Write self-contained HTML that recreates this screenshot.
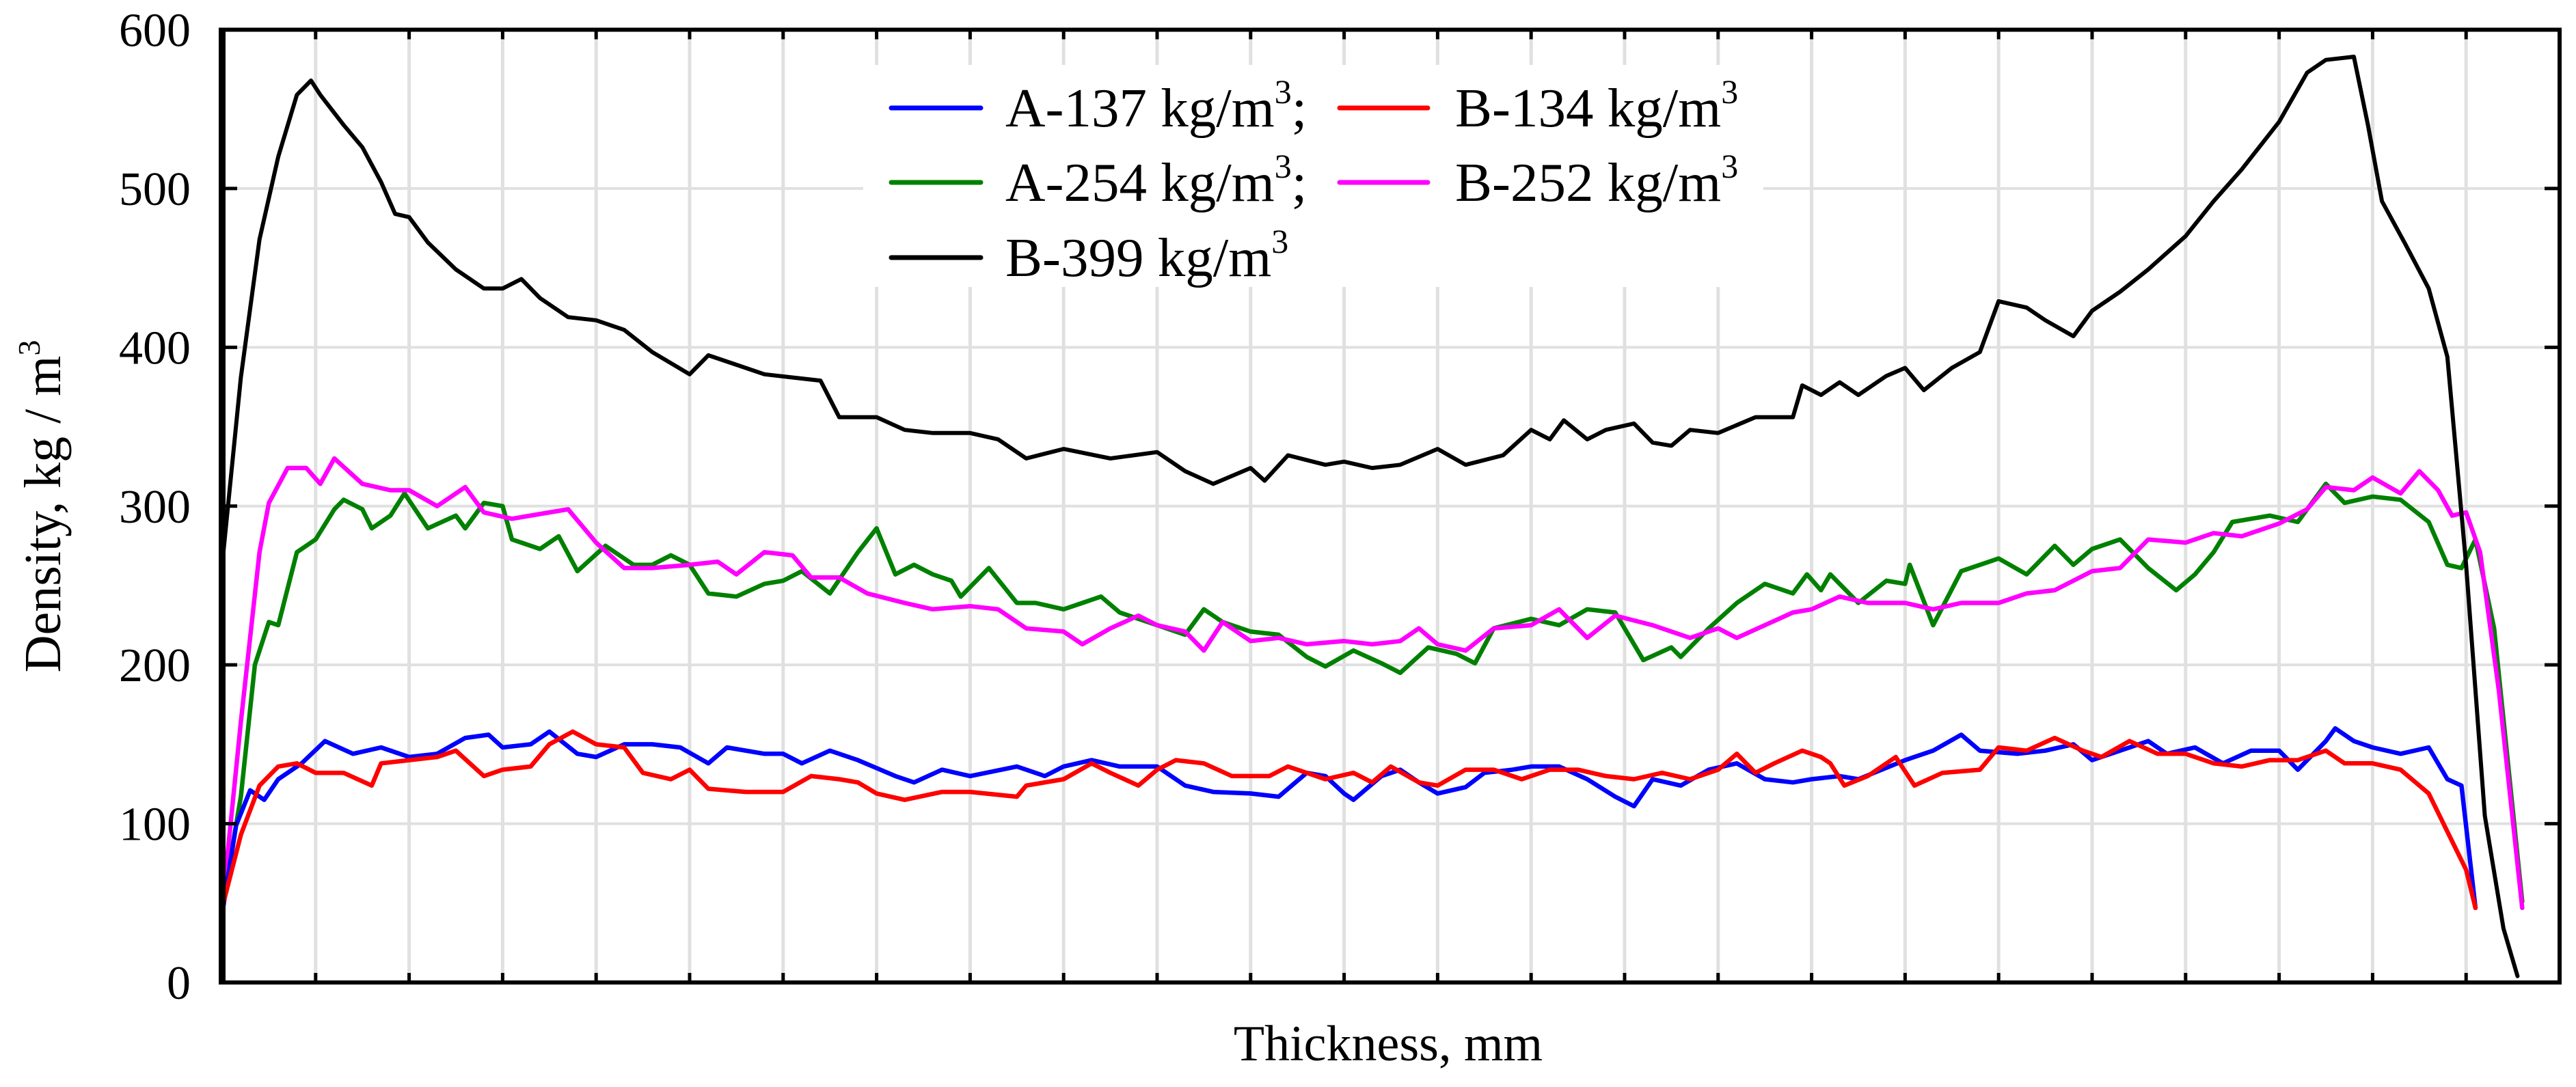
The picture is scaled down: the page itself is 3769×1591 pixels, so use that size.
<!DOCTYPE html>
<html><head><meta charset="utf-8"><style>
html,body{margin:0;padding:0;background:#fff;}
svg{display:block;font-family:"Liberation Serif",serif;}
</style></head><body>
<svg id="chart" width="3769" height="1591" viewBox="0 0 3769 1591" xmlns="http://www.w3.org/2000/svg">
<g id="grid"></g>
<g id="series"></g>
<g id="legend">
 <rect x="1263" y="95" width="1317" height="325" fill="#fff"/>
 <g>
  <line x1="1304" y1="158" x2="1435" y2="158" stroke="#0000ff" stroke-width="7" stroke-linecap="round"/>
  <text x="1471" y="185" font-size="81">A-137 kg/m<tspan font-size="50" dy="-34">3</tspan><tspan dy="34">;</tspan></text>
 </g>
 <g>
  <line x1="1960" y1="158" x2="2089" y2="158" stroke="#ff0000" stroke-width="7" stroke-linecap="round"/>
  <text x="2129" y="185" font-size="81">B-134 kg/m<tspan font-size="50" dy="-34">3</tspan></text>
 </g>
 <g>
  <line x1="1304" y1="267" x2="1435" y2="267" stroke="#008000" stroke-width="7" stroke-linecap="round"/>
  <text x="1471" y="294" font-size="81">A-254 kg/m<tspan font-size="50" dy="-34">3</tspan><tspan dy="34">;</tspan></text>
 </g>
 <g>
  <line x1="1960" y1="267" x2="2089" y2="267" stroke="#ff00ff" stroke-width="7" stroke-linecap="round"/>
  <text x="2129" y="294" font-size="81">B-252 kg/m<tspan font-size="50" dy="-34">3</tspan></text>
 </g>
 <g>
  <line x1="1304" y1="377" x2="1435" y2="377" stroke="#000000" stroke-width="7" stroke-linecap="round"/>
  <text x="1471" y="404" font-size="81">B-399 kg/m<tspan font-size="50" dy="-34">3</tspan></text>
 </g>
</g>
<g id="axes"></g>
<text x="2031" y="1552" font-size="74" text-anchor="middle">Thickness, mm</text>
<text transform="translate(88,741) rotate(-90)" font-size="76" text-anchor="middle">Density, kg / m<tspan font-size="46" dy="-30">3</tspan></text>
</svg>
<script>
const yTicks = [0,100,200,300,400,500,600];
const xGrid = [0,1,2,3,4,5,6,7,8,9,10,11,12,13,14,15,16,17,18,19,20,21,22,23,24,25];

const blackX = [0,0.2,0.4,0.6,0.8,0.95,1.05,1.3,1.5,1.7,1.85,2.0,2.2,2.5,2.8,3.0,3.2,3.4,3.7,4.0,4.3,4.6,5.0,5.2,5.5,5.8,6.1,6.4,6.6,7.0,7.3,7.6,8.0,8.3,8.6,9,9.5,10,10.3,10.6,11,11.15,11.4,11.8,12,12.3,12.6,13,13.3,13.7,14,14.2,14.35,14.6,14.8,15.1,15.3,15.5,15.7,16,16.4,16.8,16.9,17.1,17.3,17.5,17.8,18,18.2,18.5,18.8,19,19.3,19.5,19.8,20,20.3,20.6,21,21.3,21.6,22,22.3,22.5,22.8,22.95,23.1,23.35,23.6,23.8,24,24.2,24.4,24.55];
const blackY = [263,381,468,520,559,568,559,540,526,504,484,482,466,449,437,437,443,431,419,417,411,397,383,395,389,383,381,379,356,356,348,346,346,342,330,336,330,334,322,314,324,316,332,326,328,324,326,336,326,332,348,342,354,342,348,352,340,338,348,346,356,356,376,370,378,370,382,387,373,387,397,429,425,417,407,423,435,449,470,492,512,542,573,581,583,540,492,465,437,394,263,105,34,4];

const magX = [0,0.2,0.4,0.5,0.7,0.9,1.05,1.2,1.5,1.8,2.0,2.3,2.6,2.8,3.1,3.5,3.7,4.0,4.3,4.6,5.0,5.3,5.5,5.8,6.1,6.3,6.6,6.9,7.3,7.6,8.0,8.3,8.6,9,9.2,9.5,9.8,10,10.3,10.5,10.7,11,11.3,11.6,12,12.3,12.6,12.8,13,13.3,13.6,14,14.3,14.6,14.9,15.3,15.7,16,16.2,16.5,16.8,17,17.3,17.6,18,18.3,18.6,19,19.3,19.6,20,20.3,20.6,21,21.3,21.6,22,22.3,22.5,22.8,23,23.3,23.5,23.7,23.85,24,24.15,24.35,24.6];
const magY = [47,164,271,302,324,324,314,330,314,310,310,300,312,296,292,296,298,277,261,261,263,265,257,271,269,255,255,245,239,235,237,235,223,221,213,223,231,225,221,209,227,215,217,213,215,213,215,223,213,209,223,225,235,217,231,225,217,223,217,225,233,235,243,239,239,235,239,239,245,247,259,261,279,277,283,281,289,298,312,310,318,308,322,310,294,296,271,184,47];

const greenX = [0,0.2,0.35,0.5,0.6,0.8,1.0,1.2,1.3,1.5,1.6,1.8,1.95,2.2,2.5,2.6,2.8,3.0,3.1,3.4,3.6,3.8,4.1,4.4,4.6,4.8,5.0,5.2,5.5,5.8,6.0,6.2,6.5,6.8,7.0,7.2,7.4,7.6,7.8,7.9,8.2,8.5,8.7,9,9.2,9.4,9.6,10,10.3,10.5,10.7,11,11.3,11.6,11.8,12.1,12.4,12.6,12.9,13.2,13.4,13.6,14,14.3,14.6,14.9,15.2,15.5,15.6,15.9,16.2,16.5,16.8,16.95,17.1,17.2,17.5,17.8,18,18.05,18.3,18.6,19,19.3,19.6,19.8,20,20.3,20.6,20.9,21.1,21.3,21.5,21.9,22.2,22.5,22.7,23,23.3,23.6,23.8,23.95,24.1,24.3,24.6];
const greenY = [47,117,200,227,225,271,279,298,304,298,286,294,308,286,294,286,302,300,279,273,281,259,275,263,263,269,263,245,243,251,253,259,245,271,286,257,263,257,253,243,261,239,239,235,239,243,233,225,219,235,227,221,219,205,199,209,201,195,211,207,201,223,229,225,235,233,203,211,205,223,239,251,245,257,247,257,239,253,251,263,225,259,267,257,275,263,273,279,261,247,257,271,290,294,290,314,302,306,304,290,263,261,279,223,51];

const blueX = [0,0.15,0.3,0.45,0.6,0.85,1.1,1.4,1.7,2.0,2.3,2.6,2.85,3.0,3.3,3.5,3.8,4.0,4.3,4.6,4.9,5.2,5.4,5.8,6.0,6.2,6.5,6.8,7.2,7.4,7.7,8.0,8.5,8.8,9,9.3,9.6,10,10.3,10.6,11,11.3,11.6,11.8,12.0,12.1,12.4,12.6,12.8,13,13.3,13.5,13.8,14.0,14.3,14.6,14.9,15.1,15.3,15.6,15.9,16.2,16.5,16.8,17,17.3,17.5,18,18.3,18.6,18.8,19.2,19.5,19.8,20,20.3,20.6,20.8,21.1,21.4,21.7,22,22.2,22.5,22.6,22.8,23.0,23.3,23.6,23.8,23.95,24.1];
const blueY = [43,99,121,115,128,138,152,144,148,142,144,154,156,148,150,158,144,142,150,150,148,138,148,144,144,138,146,140,130,126,134,130,136,130,136,140,136,136,124,120,119,117,132,130,119,115,130,134,126,119,123,132,134,136,136,128,117,111,128,124,134,138,128,126,128,130,128,140,146,156,146,144,146,150,140,146,152,144,148,138,146,146,134,152,160,152,148,144,148,128,124,47];

const redX = [0,0.2,0.4,0.6,0.8,1.0,1.3,1.6,1.7,2.0,2.3,2.5,2.8,3.0,3.3,3.5,3.75,4.0,4.3,4.5,4.8,5.0,5.2,5.6,6.0,6.3,6.6,6.8,7.0,7.3,7.7,8.0,8.5,8.6,9,9.3,9.5,9.8,10,10.2,10.5,10.8,11.2,11.4,11.8,12.1,12.3,12.5,12.8,13.0,13.3,13.6,13.9,14.2,14.5,14.8,15.1,15.4,15.7,16.0,16.2,16.4,16.6,16.9,17.1,17.2,17.35,17.6,17.9,18.1,18.4,18.8,19.0,19.3,19.6,19.9,20.1,20.4,20.7,21.0,21.3,21.6,21.9,22.2,22.5,22.7,23.0,23.3,23.6,23.8,24.0,24.1];
const redY = [47,93,124,136,138,132,132,124,138,140,142,146,130,134,136,150,158,150,148,132,128,134,122,120,120,130,128,126,119,115,120,120,117,124,128,138,132,124,134,140,138,130,130,136,128,132,126,136,126,124,134,134,128,134,134,130,128,132,128,134,144,132,138,146,142,138,124,130,142,124,132,134,148,146,154,146,142,152,144,144,138,136,140,140,146,138,138,134,119,95,71,47];

const NS = 'http://www.w3.org/2000/svg';
const X0 = 325, X1 = 3745, Y0 = 1438, Y1 = 43.5;
const xMax = 25, yMax = 600;
function sx(u){ return X0 + (X1 - X0) * u / xMax; }
function sy(v){ return Y0 - (Y0 - Y1) * v / yMax; }
function mk(tag, attrs, parent){
  const e = document.createElementNS(NS, tag);
  for (const k in attrs) e.setAttribute(k, attrs[k]);
  parent.appendChild(e);
  return e;
}
const grid = document.getElementById('grid');
const axes = document.getElementById('axes');
const series = document.getElementById('series');

xGrid.forEach(function(g){
  if (g === 0 || g === xMax) return;
  const l = mk('line', {x1: sx(g), x2: sx(g), y1: Y1, y2: Y0, stroke: '#e0e0e0', 'stroke-width': 5}, grid);
  
  
  const t1 = mk('line', {x1: sx(g), x2: sx(g), y1: Y1, y2: Y1 + 14, stroke: '#000', 'stroke-width': 5}, axes);
  
  
  const t2 = mk('line', {x1: sx(g), x2: sx(g), y1: Y0, y2: Y0 - 14, stroke: '#000', 'stroke-width': 5}, axes);
  
  
});
yTicks.forEach(function(v){
  if (v !== 0 && v !== yMax) {
    const l = mk('line', {x1: X0, x2: X1, y1: sy(v), y2: sy(v), stroke: '#e0e0e0', 'stroke-width': 4}, grid);
    
    
    const t1 = mk('line', {x1: X0, x2: X0 + 22, y1: sy(v), y2: sy(v), stroke: '#000', 'stroke-width': 5}, axes);
    
    
    const t2 = mk('line', {x1: X1, x2: X1 - 22, y1: sy(v), y2: sy(v), stroke: '#000', 'stroke-width': 5}, axes);
    
    
  }
  const tx = mk('text', {x: 279, y: sy(v) + 24, 'font-size': 70, 'text-anchor': 'end'}, axes);
  tx.textContent = v;
  
  
});

const frame = mk('rect', {x: X0, y: Y1, width: X1 - X0, height: Y0 - Y1, fill: 'none', stroke: '#000', 'stroke-width': 6}, axes);


const leftAxis = mk('line', {x1: X0, x2: X0, y1: Y1 - 3, y2: Y0 + 3, stroke: '#000', 'stroke-width': 10}, axes);



function drawSeries(xs, ys, color, name, w){
  let d = '';
  for (let i = 0; i < xs.length; i++) d += (i ? 'L' : 'M') + sx(xs[i]).toFixed(1) + ' ' + sy(ys[i]).toFixed(1);
  const p = mk('path', {d: d, fill: 'none', stroke: color, 'stroke-width': w, 'stroke-linejoin': 'round', 'stroke-linecap': 'round'}, series);
  
  
}
drawSeries(greenX, greenY, '#008000', 'series-a254', 6.5);
drawSeries(magX, magY, '#ff00ff', 'series-b252', 6.5);
drawSeries(blueX, blueY, '#0000ff', 'series-a137', 6.5);
drawSeries(redX, redY, '#ff0000', 'series-b134', 6.5);
drawSeries(blackX, blackY, '#000000', 'series-b399', 6);
</script>
</body></html>
